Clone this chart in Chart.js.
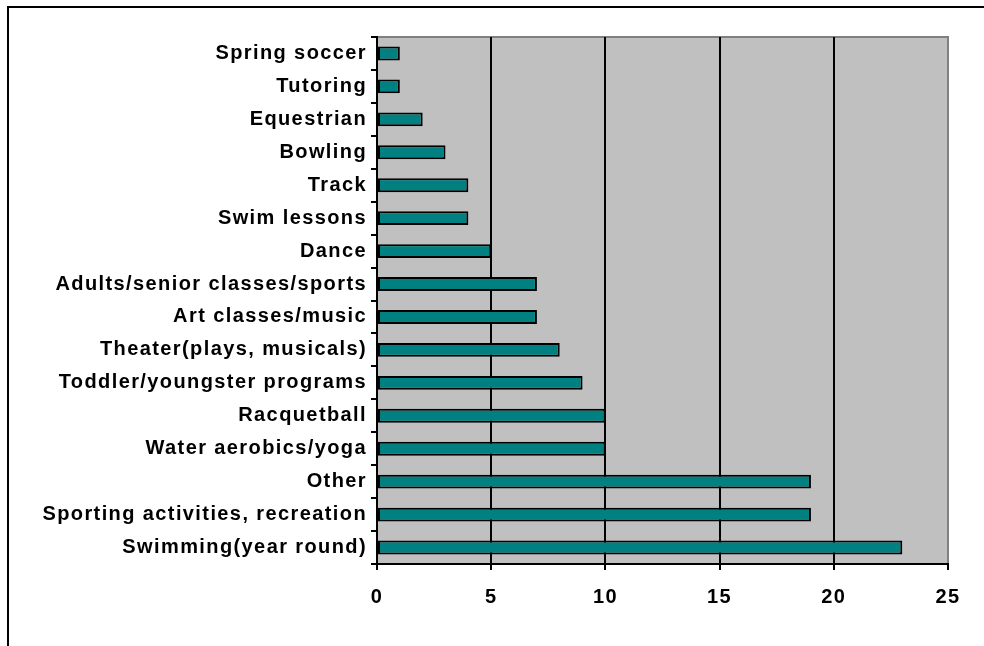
<!DOCTYPE html>
<html>
<head>
<meta charset="utf-8">
<script src="https://cdn.jsdelivr.net/npm/chart.js@4/dist/chart.umd.min.js"></script>
<style>
  html, body { margin: 0; padding: 0; background: #fff; }
  body { width: 984px; height: 646px; position: relative; overflow: hidden; }
  #frame { position: absolute; left: 7px; top: 6px; width: 1000px; height: 700px;
           border-left: 2px solid #000; border-top: 2px solid #000; box-sizing: border-box; }
  #wrap { position: absolute; left: 0; top: 0; width: 984px; height: 646px; }
</style>
</head>
<body>
<div id="frame"></div>
<div id="wrap"><canvas id="c" width="984" height="646"></canvas></div>
<script>
// Activities and number of responses
const categories = [
  "Spring soccer",
  "Tutoring",
  "Equestrian",
  "Bowling",
  "Track",
  "Swim lessons",
  "Dance",
  "Adults/senior classes/sports",
  "Art classes/music",
  "Theater(plays, musicals)",
  "Toddler/youngster programs",
  "Racquetball",
  "Water aerobics/yoga",
  "Other",
  "Sporting activities, recreation",
  "Swimming(year round)"
];
const responses = [1, 1, 2, 3, 4, 4, 5, 7, 7, 8, 9, 10, 10, 19, 19, 23];
const xTicks = [0, 5, 10, 15, 20, 25];

const FONT = "'Liberation Sans', Arial, sans-serif";

// Gray plot area with a darker top/right edge; slightly loose letter spacing for labels
const plotBackground = {
  id: 'plotBackground',
  beforeDraw(chart) {
    const { ctx, chartArea: a } = chart;
    ctx.letterSpacing = '1.4px';
    ctx.save();
    ctx.fillStyle = '#C0C0C0';
    ctx.fillRect(a.left, a.top, a.right - a.left, a.bottom - a.top);
    ctx.strokeStyle = '#808080';
    ctx.lineWidth = 2;
    ctx.beginPath();
    ctx.moveTo(a.left, a.top);
    ctx.lineTo(a.right, a.top);
    ctx.lineTo(a.right, a.bottom);
    ctx.stroke();
    ctx.restore();
  }
};

new Chart(document.getElementById('c'), {
  type: 'bar',
  data: {
    labels: categories,
    datasets: [{
      data: responses,
      backgroundColor: '#008080',
      borderColor: '#000000',
      borderWidth: 2,
      borderSkipped: false,
      barPercentage: 0.42,
      categoryPercentage: 1.0
    }]
  },
  options: {
    indexAxis: 'y',
    responsive: false,
    animation: false,
    devicePixelRatio: 1,
    layout: { padding: { left: 0, right: 36, top: 37, bottom: 0 } },
    plugins: {
      legend: { display: false },
      tooltip: { enabled: false }
    },
    scales: {
      x: {
        min: 0,
        max: 25,
        afterBuildTicks(scale) { scale.ticks = xTicks.map(v => ({ value: v })); },
        afterFit(scale) { scale.height = 82; },
        grid: {
          color: ctx => (ctx.tick && ctx.tick.value === 25) ? '#808080' : '#000000',
          tickColor: '#000000',
          lineWidth: 2,
          tickLength: 6,
          drawOnChartArea: true
        },
        border: { color: '#000000', width: 2 },
        ticks: {
          color: '#000000',
          font: { family: FONT, size: 20, weight: 'bold' },
          padding: 15,
          maxRotation: 0
        }
      },
      y: {
        afterFit(scale) { scale.width = 377; },
        grid: {
          drawOnChartArea: false,
          drawTicks: true,
          tickColor: '#000000',
          lineWidth: 2,
          tickLength: 6,
          offset: true
        },
        border: { color: '#000000', width: 2 },
        ticks: {
          color: '#000000',
          font: { family: FONT, size: 20, weight: 'bold' },
          padding: 4,
          autoSkip: false
        }
      }
    }
  },
  plugins: [plotBackground]
});
</script>
</body>
</html>
